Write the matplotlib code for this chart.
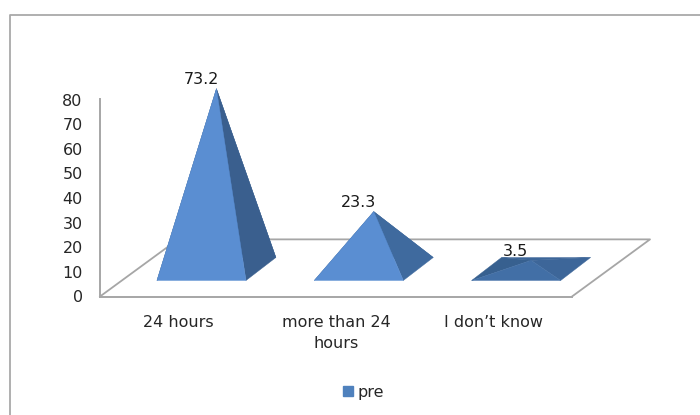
import matplotlib
matplotlib.use("Agg")
import matplotlib.pyplot as plt
from matplotlib.patches import Patch, Polygon
from matplotlib.lines import Line2D

categories = ["24 hours", "more than 24\nhours", "I don\u2019t know"]
values = [73.2, 23.3, 3.5]
value_labels = ["73.2", "23.3", "3.5"]
y_ticks = [0, 10, 20, 30, 40, 50, 60, 70, 80]
series_name = "pre"

W, H = 700, 415
plt.rcParams["font.family"] = ["DejaVu Sans"]
fig = plt.figure(figsize=(W / 100, H / 100), dpi=100)
L, R, B, T = 100, 572, 296.5, 99.5
ax = fig.add_axes([L / W, 1 - B / H, (R - L) / W, (B - T) / H])
ax.set_xlim(-0.5, 2.5)
ax.set_ylim(0, 80)
ax.patch.set_visible(False)
grey = "#A6A6A6"
txt = "#262626"
fs = 11.5
for s in ("top", "right"):
    ax.spines[s].set_visible(False)
for s in ("left", "bottom"):
    ax.spines[s].set_color(grey)
    ax.spines[s].set_linewidth(1.4)
ax.set_yticks(y_ticks)
ax.set_xticks(range(len(categories)))
ax.set_xticklabels(categories, linespacing=1.5)
ax.tick_params(axis="both", length=0, labelsize=fs, labelcolor=txt)
ax.tick_params(axis="y", pad=12.5)
ax.tick_params(axis="x", pad=13.5)

# oblique floor: depth vector in axis units
fdx, fdy = 0.4958, 23.2
ax.add_line(Line2D([-0.5, -0.5 + fdx, 2.5 + fdx, 2.5],
                   [0, fdy, fdy, 0], color=grey, lw=1.3, clip_on=False, zorder=1))

# pyramids
cx_off, cy_off = 0.24, 11.17
hw, ddx, ddy = 0.283, 0.19, 9.34
front = ["#5A8ED2", "#5A8ED2", "#426FA6"]
right = ["#3A5F8E", "#3F6A9E", "#3D6699"]
left = ["#37608F", "#37608F", "#37608F"]
back = ["#3D6699", "#3D6699", "#3D6699"]
for i, v in enumerate(values):
    cx, cy = i + cx_off, cy_off
    fl = (cx - hw - ddx / 2, cy - ddy / 2)
    fr = (cx + hw - ddx / 2, cy - ddy / 2)
    br = (cx + hw + ddx / 2, cy + ddy / 2)
    bl = (cx - hw + ddx / 2, cy + ddy / 2)
    apex = (cx, cy + v)
    faces = [((bl, br, apex), back[i]), ((fl, bl, apex), left[i]),
             ((fr, br, apex), right[i]), ((fl, fr, apex), front[i])]
    for pts, col in faces:
        ax.add_patch(Polygon(pts, closed=True, facecolor=col, edgecolor=col,
                             lw=0.3, clip_on=False, zorder=3))
    ax.annotate(value_labels[i], xy=apex, xytext=(-11, 1), textcoords="offset points",
                ha="center", va="bottom", fontsize=fs, color="#1a1a1a",
                annotation_clip=False, zorder=5)

# outer chart frame: open on the right, cropped at the bottom
fig.add_artist(Line2D([9.5 / W, 9.5 / W, 1],
                      [0, 1 - 15 / H, 1 - 15 / H], color="#A9A9A9", lw=1.3))

fig.legend(handles=[Patch(facecolor="#4F81BD", edgecolor="#4F81BD", label=series_name)],
           loc="center", bbox_to_anchor=(363.5 / W, 1 - 392 / H), frameon=False,
           fontsize=fs, handlelength=0.6, handleheight=0.6, handletextpad=0.3,
           labelcolor=txt)

fig.savefig("out.png", dpi=100)
